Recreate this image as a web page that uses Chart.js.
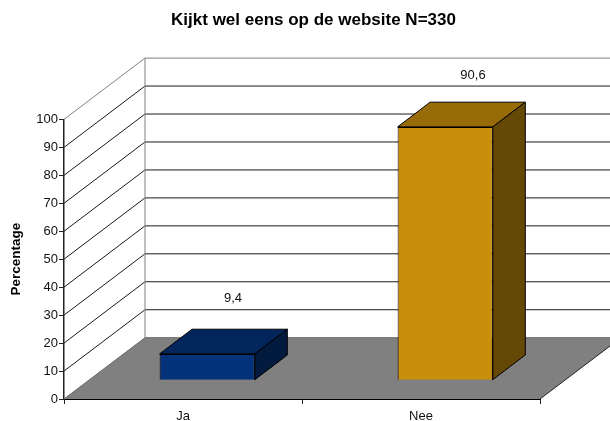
<!DOCTYPE html>
<html><head><meta charset="utf-8">
<style>html,body{margin:0;padding:0;background:#fff}#w{width:610px;height:421px;position:relative}canvas{display:block}</style>
<script src="https://cdn.jsdelivr.net/npm/chart.js@4"></script></head>
<body><div id="w"><canvas id="c" width="610" height="421"></canvas></div>
<script>
const categories = ['Ja', 'Nee'];
const percentages = [9.4, 90.6];
const valueLabels = ['9,4', '90,6'];
const yTicks = [0,10,20,30,40,50,60,70,80,90,100];
const frontColors = ['#03327a', '#c98e0a'];
const topColors = ['#02265c', '#976b07'];
const sideColors = ['#011a3e', '#654805'];

const FONT = '"Liberation Sans", Arial, sans-serif';
const WALL_DX = 81, WALL_DY = -61.3;     // depth of the floor
const BAR_SHIFT_X = 24.2, BAR_SHIFT_Y = -18.8; // bar front face behind the front plane
const BAR_DX = 32.5, BAR_DY = -24.7;     // depth of a bar
const LABEL_DX = [50, 52], LABEL_DY = [-74.5, -70];

function poly(ctx, pts, fill, stroke, lw) {
  ctx.beginPath();
  pts.forEach((p, i) => i ? ctx.lineTo(p[0], p[1]) : ctx.moveTo(p[0], p[1]));
  ctx.closePath();
  if (fill) { ctx.fillStyle = fill; ctx.fill(); }
  if (stroke) { ctx.strokeStyle = stroke; ctx.lineWidth = lw || 1; ctx.stroke(); }
}

const walls3d = {
  id: 'walls3d',
  afterLayout(chart) {
    chart.titleBlock.left = 17;
    chart.titleBlock.right = 610;
  },
  beforeDatasetsDraw(chart) {
    const { ctx, chartArea: a, scales: { y } } = chart;
    ctx.save();
    ctx.lineWidth = 1;
    yTicks.forEach(v => {
      const py = y.getPixelForValue(v);
      ctx.strokeStyle = (v === 100 || v === 0) ? '#808080' : '#1a1a1a';
      if (v === 0) return;
      ctx.beginPath();
      ctx.moveTo(a.left, py);
      ctx.lineTo(a.left + WALL_DX, py + WALL_DY);
      ctx.lineTo(a.right + WALL_DX, py + WALL_DY);
      ctx.stroke();
    });
    const b = a.bottom, t = a.top;
    ctx.strokeStyle = '#808080';
    ctx.beginPath();
    ctx.moveTo(a.left + WALL_DX, t + WALL_DY);
    ctx.lineTo(a.left + WALL_DX, b + WALL_DY);
    ctx.stroke();
    poly(ctx, [[a.left, b], [a.right, b], [a.right + WALL_DX, b + WALL_DY], [a.left + WALL_DX, b + WALL_DY]], '#808080');
    ctx.strokeStyle = '#666666';
    ctx.beginPath();
    ctx.moveTo(a.left, b);
    ctx.lineTo(a.left + WALL_DX, b + WALL_DY);
    ctx.lineTo(a.right + WALL_DX, b + WALL_DY);
    ctx.stroke();
    ctx.strokeStyle = '#222222';
    ctx.beginPath();
    ctx.moveTo(a.right, b);
    ctx.lineTo(a.right + WALL_DX, b + WALL_DY);
    ctx.stroke();
    ctx.restore();
  },
  beforeDatasetDraw(chart) {
    const { ctx } = chart;
    const meta = chart.getDatasetMeta(0);
    ctx.save();
    meta.data.forEach((bar, i) => {
      const hw = bar.width / 2;
      const L = bar.x - hw + BAR_SHIFT_X, R = bar.x + hw + BAR_SHIFT_X;
      const T = bar.y + BAR_SHIFT_Y, B = bar.base + BAR_SHIFT_Y;
      poly(ctx, [[L, T], [R, T], [R + BAR_DX, T + BAR_DY], [L + BAR_DX, T + BAR_DY]], topColors[i], '#000', 1);
      poly(ctx, [[R, T], [R + BAR_DX, T + BAR_DY], [R + BAR_DX, B + BAR_DY], [R, B]], sideColors[i], '#000', 1);
    });
    ctx.translate(BAR_SHIFT_X, BAR_SHIFT_Y);
  },
  afterDatasetDraw(chart) {
    chart.ctx.restore();
  },
  afterDatasetsDraw(chart) {
    const { ctx } = chart;
    const meta = chart.getDatasetMeta(0);
    ctx.save();
    ctx.fillStyle = '#111';
    ctx.font = '13px ' + FONT;
    ctx.textAlign = 'center';
    ctx.textBaseline = 'middle';
    meta.data.forEach((bar, i) => {
      ctx.fillText(valueLabels[i], bar.x + LABEL_DX[i], bar.y + LABEL_DY[i]);
    });
    ctx.restore();
  }
};

new Chart(document.getElementById('c'), {
  type: 'bar',
  data: {
    labels: categories,
    datasets: [{
      data: percentages,
      backgroundColor: frontColors,
      borderColor: '#000',
      borderWidth: 1,
      barPercentage: 0.4,
      categoryPercentage: 1
    }]
  },
  plugins: [walls3d],
  options: {
    responsive: false,
    animation: false,
    layout: { padding: { left: 0, right: 70, top: 0, bottom: 0 } },
    plugins: {
      legend: { display: false },
      tooltip: { enabled: false },
      title: {
        display: true,
        text: 'Kijkt wel eens op de website N=330',
        color: '#000',
        font: { family: FONT, size: 17, weight: 'bold' },
        padding: { top: 10.5, bottom: 88.5 }
      }
    },
    scales: {
      x: {
        grid: { display: true, drawOnChartArea: false, drawTicks: true, tickLength: 5, color: '#222', offset: true },
        border: { color: '#000', width: 1 },
        ticks: { color: '#111', font: { family: FONT, size: 13 }, padding: 5, maxRotation: 0 },
        afterFit(s) { s.height = 22; }
      },
      y: {
        min: 0, max: 100,
        afterBuildTicks(s) { s.ticks = yTicks.map(v => ({ value: v })); },
        grid: { display: true, drawOnChartArea: false, drawTicks: true, tickLength: 5, color: '#222' },
        border: { color: '#222', width: 1.5 },
        ticks: { color: '#111', font: { family: FONT, size: 13 }, padding: 1 },
        title: { display: true, text: 'Percentage', color: '#000', font: { family: FONT, size: 13.5, weight: 'bold' }, padding: { top: 8, bottom: 0 } },
        afterFit(s) { s.width = 64; }
      }
    }
  }
});
</script></body></html>
